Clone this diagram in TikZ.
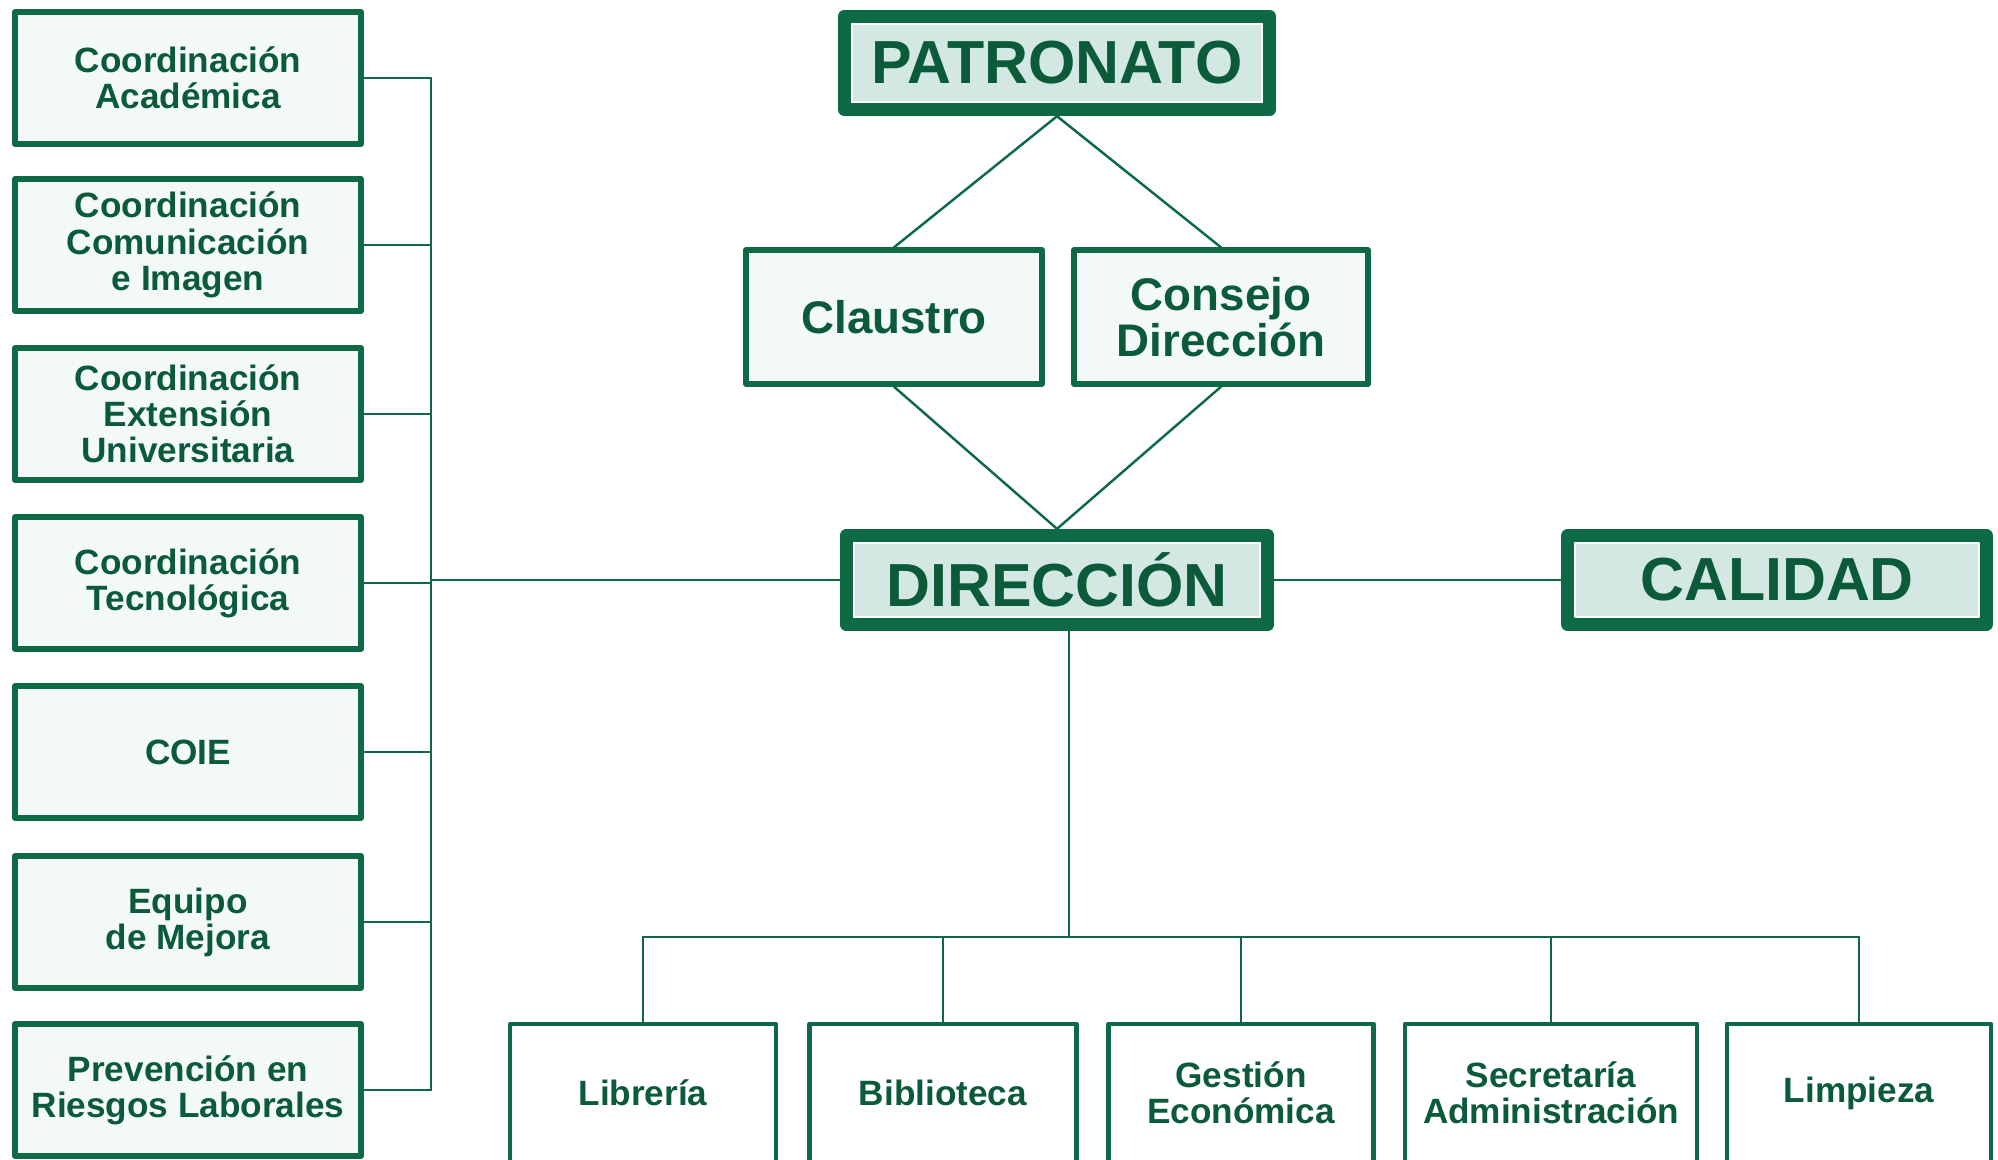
\documentclass[tikz,border=0pt]{standalone}
\usepackage{fontspec}
\setmainfont{Liberation Sans}
\definecolor{verde}{HTML}{0E6A45}
\definecolor{letra}{HTML}{0B5A3A}
\definecolor{verdeclaro}{HTML}{D3E7E3}
\definecolor{fondo}{HTML}{F3F8F8}
\begin{document}
\begin{tikzpicture}[x=0.01cm, y=-0.01cm, line join=round, line cap=round,
  jefe/.style={draw=verde, line width=3.8pt, fill=verdeclaro, text=letra, inner sep=0pt,
    minimum width=4.21cm, minimum height=0.89cm, font=\fontsize{17.3}{18}\selectfont\bfseries},
  caja/.style={draw=verde, line width=1.5pt, fill=fondo, text=letra, align=center, inner sep=0pt,
    minimum width=3.46cm, minimum height=1.32cm, font=\fontsize{10}{10.3}\selectfont\bfseries},
  consejo/.style={caja, minimum height=1.34cm, font=\fontsize{13}{13.2}\selectfont\bfseries},
  linea/.style={draw=verde, line width=0.7pt}]
\useasboundingbox (0,0) rectangle (1998,1159);
\clip (0,0) rectangle (1998,1159);
\node[jefe, minimum width=4.25cm, minimum height=0.93cm] (patronato) at (1057,63) {PATRONATO};
\node[consejo, minimum width=2.96cm] (claustro) at (894,317) {Claustro};
\node[consejo, minimum width=2.94cm] (cdireccion) at (1221,317) {Consejo\\Dirección};
\node[jefe] (direccion) at (1057,580) {DIRECCIÓN};
\node[jefe, minimum width=4.19cm, minimum height=0.88cm] (calidad) at (1777,580) {CALIDAD};
% filete blanco interior
\foreach \n in {patronato,direccion,calidad}
  \draw[white, line width=0.5pt] ([shift={(14,14)}]\n.north west) rectangle ([shift={(-14,-14)}]\n.south east);
% columna izquierda
\foreach \n/\y/\t in {ca/78/{Coordinación\\Académica}, cc/245/{Coordinación\\Comunicación\\e Imagen},
  ce/414/{Coordinación\\Extensión\\Universitaria}, ct/583/{Coordinación\\Tecnológica},
  coie/752/{COIE}, em/922/{Equipo\\de Mejora}, pr/1090/{Prevención en\\Riesgos Laborales}}
  \node[caja] (\n) at (188,\y) {\t};
% fila de abajo
\foreach \n/\x/\w/\t in {lib/643/2.66/{Librería}, bib/943/2.67/{Biblioteca}, ge/1241/2.65/{Gestión\\Económica},
  sa/1551/2.92/{Secretaría\\Administración}, lim/1859/2.64/{Limpieza}}
  \node[caja, line width=1.3pt, fill=white, minimum width=\w cm, minimum height=1.38cm] (\n) at (\x,1093) {\t};
\coordinate (bus) at (431,0);
\coordinate (baja) at (1069,937);
\draw[linea] (patronato.south) -- (claustro.north) (patronato.south) -- (cdireccion.north);
\draw[linea] (claustro.south) -- (direccion.north) -- (cdireccion.south);
\draw[linea] (direccion.east) -- (calidad.west);
\draw[linea] (direccion.west) -- (direccion.west -| bus);
\draw[linea] (ca.east -| bus) -- (pr.east -| bus);
\foreach \n in {ca,cc,ce,ct,coie,em,pr}
  \draw[linea] (\n.east) -- (\n.east -| bus);
\draw[linea] (direccion.south -| baja) -- (baja);
\draw[linea] (lib.north |- baja) -- (lim.north |- baja);
\foreach \n in {lib,bib,ge,sa,lim}
  \draw[linea] (\n.north) -- (\n.north |- baja);
\end{tikzpicture}
\end{document}
